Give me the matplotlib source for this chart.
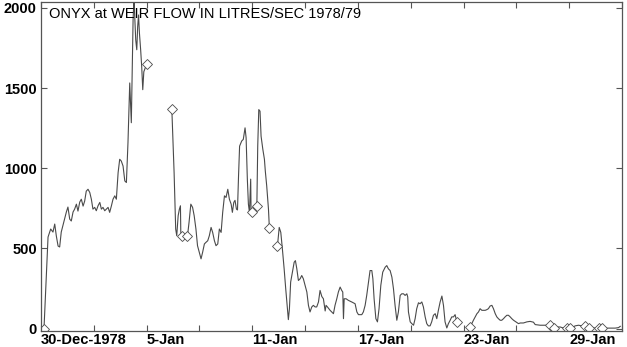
import numpy as np
import pandas as pd
import matplotlib
matplotlib.use("Agg")
import matplotlib.pyplot as plt

plt.rcParams['font.family'] = ['Liberation Sans', 'DejaVu Sans']

# Flow at Onyx weir, litres/sec; days counted from 30-Dec-1978 00:00, NaN = missing record
days = [
    0.17, 0.40, 0.55, 0.68, 0.78, 0.87, 0.97, 1.06, 1.15, 1.31, 1.44, 1.53, 1.63, 1.72, 1.82,
    1.91, 2.01, 2.10, 2.20, 2.29, 2.39, 2.48, 2.57, 2.67, 2.77, 2.86, 2.95, 3.05, 3.14, 3.24,
    3.34, 3.43, 3.52, 3.62, 3.71, 3.81, 3.90, 4.00, 4.09, 4.19, 4.28, 4.38, 4.47, 4.56, 4.66,
    4.76, 4.85, 4.94, 5.04, 5.13, 5.23, 5.28, 5.38, 5.44, 5.49, 5.54, 5.59, 5.66, 5.72, 5.78,
    5.84, 6.01,
    6.70,
    7.43, 7.56, 7.65, 7.71, 7.79, 7.86, 7.92, 7.94, 7.99,
    8.15,
    8.32, 8.41, 8.51, 8.61, 8.70, 8.80, 8.89, 8.99, 9.09, 9.18, 9.28, 9.37, 9.47, 9.56, 9.66,
    9.75, 9.85, 9.94, 10.04, 10.13, 10.23, 10.32, 10.42, 10.51, 10.61, 10.70, 10.80, 10.87,
    10.95, 11.02, 11.10, 11.16, 11.22, 11.28, 11.40, 11.49, 11.59, 11.65, 11.72, 11.78, 11.84,
    11.91, 11.93, 11.97,
    12.10,
    12.26, 12.31, 12.37, 12.44, 12.50, 12.60, 12.69, 12.74, 12.82, 12.92, 12.97,
    13.20,
    13.39, 13.45, 13.53, 13.62, 13.71, 13.81, 13.90, 14.00, 14.05, 14.11, 14.18, 14.28, 14.38,
    14.45, 14.53, 14.62, 14.72, 14.81, 14.90, 15.00, 15.10, 15.19, 15.28, 15.38, 15.47, 15.57,
    15.66, 15.76, 15.85, 15.95, 16.04, 16.14, 16.19, 16.27, 16.42, 16.61, 16.70, 16.80, 16.89,
    16.99, 17.08, 17.14, 17.18, 17.22, 17.33, 17.46, 17.65, 17.84, 17.94, 18.03, 18.22, 18.31,
    18.41, 18.50, 18.60, 18.69, 18.79, 18.85, 18.92, 19.02, 19.11, 19.20, 19.30, 19.41, 19.55,
    19.64, 19.73, 19.83, 19.93, 20.02, 20.11, 20.21, 20.30, 20.40, 20.49, 20.59, 20.68, 20.78,
    20.83, 20.87, 20.97, 21.06, 21.16, 21.25, 21.34, 21.44, 21.53, 21.63, 21.72, 21.82, 21.91,
    22.00, 22.10, 22.19, 22.29, 22.39, 22.48, 22.57, 22.67, 22.77, 22.86, 22.95, 23.05, 23.14,
    23.24, 23.33, 23.43, 23.52, 23.62,
    24.00,
    24.38, 24.47, 24.56, 24.66, 24.76, 24.85, 24.94, 25.04, 25.13, 25.23, 25.32, 25.41, 25.51,
    25.61, 25.70, 25.80, 25.89, 25.98, 26.08, 26.17, 26.27, 26.36, 26.46, 26.55, 26.65, 26.74,
    26.84, 26.93, 27.03, 27.12, 27.22, 27.40, 27.60, 27.78, 27.97, 28.07, 28.35, 28.73, 28.92,
    29.00,
    29.11, 29.30, 29.49, 29.68, 29.87,
    29.95,
    30.06, 30.15, 30.34, 30.53, 30.72, 30.91,
    31.00,
    31.10, 31.29, 31.48, 31.67,
    31.75,
    31.86, 32.05, 32.24, 32.43, 32.61, 32.80, 32.90,
]
flow = [
    0, 571, 621, 602, 652, 578, 515, 509, 602, 671, 727, 758, 683, 671, 727,
    745, 776, 733, 789, 807, 764, 795, 857, 869, 849, 807, 745, 756, 735, 766,
    787, 745, 756, 735, 745, 756, 725, 766, 807, 828, 807, 973, 1056, 1045, 1014,
    921, 911, 1159, 1532, 1284, 1925, 2060, 1801, 1739, 1882, 1956, 1844, 1739, 1633, 1490,
    1602, 1652,
    np.nan,
    1372, 973, 621, 579, 704, 745, 766, 602, 576,
    np.nan,
    577, 664, 776, 756, 704, 621, 517, 476, 435, 476, 528, 538, 548, 579, 631,
    600, 548, 517, 528, 621, 600, 725, 828, 818, 869, 807, 776, 725,
    787, 800, 745, 740, 952, 1138, 1170, 1180, 1252, 1190, 932, 776, 725,
    932, 745, 729,
    np.nan,
    766, 1138, 1366, 1356, 1200, 1118, 1056, 983, 890, 745, 630,
    np.nan,
    517, 538, 631, 600, 497, 373, 248, 124, 56, 124, 290, 352, 414,
    424, 373, 300, 311, 331, 311, 269, 228, 145, 104, 135, 145, 135,
    135, 166, 238, 200, 186, 110, 145, 135, 114, 93, 145, 186, 228,
    259, 238, 228, 62, 186, 186, 176, 166, 155, 104, 87, 87, 104,
    145, 207, 290, 362, 362, 311, 186, 62, 42, 124, 269, 352, 383,
    393, 373, 362, 321, 248, 145, 52, 104, 207, 217, 217, 207, 217,
    197, 104, 42, 31, 21, 62, 124, 161, 155, 166, 135, 73, 31,
    17, 17, 42, 83, 93, 62, 114, 166, 203, 145, 42, 4, 31,
    52, 73, 73, 87, 42,
    np.nan,
    10, 31, 52, 73, 93, 104, 124, 114, 114, 114, 118, 124, 141,
    145, 124, 93, 73, 62, 52, 52, 62, 73, 83, 83, 73, 62,
    52, 45, 37, 31, 35, 35, 42, 45, 40, 25, 21, 21, 25,
    np.nan,
    4, 10, 10, 3, 2,
    np.nan,
    2, 6, 17, 21, 17, 14,
    np.nan,
    4, 5, 3, 2,
    np.nan,
    2, 2, 3, 3, 3, 6, 14,
]

start = pd.Timestamp("1978-12-30")
tick_days = [0, 6, 12, 18, 24, 30]
minor_days = [3, 9, 15, 21, 27, 33]
tick_labels = ["30-Dec-1978", "5-Jan", "11-Jan", "17-Jan", "23-Jan", "29-Jan"]
y_ticks = [0, 500, 1000, 1500, 2000]

flow = np.array(flow, dtype=float)
t = start + pd.to_timedelta(days, unit="D")

# diamonds mark the ends of each continuous piece of record
ok = np.isfinite(flow)
prev_nan = np.r_[True, ~ok[:-1]]
next_nan = np.r_[~ok[1:], False]
ends = ok & (prev_nan | next_nan)

fig = plt.figure(figsize=(6.27, 3.47), dpi=100)
ax = fig.add_axes([41 / 627, 1 - 331 / 347, 581 / 627, 329.5 / 347])

ax.plot(t, flow, color="#4a4a4a", lw=0.8)
ax.plot(t[ends], flow[ends], ls="none", marker="D", ms=4.6, mfc="white",
        mec="#4a4a4a", mew=0.6)

ax.set_xlim(start, start + pd.Timedelta(days=33))
ax.set_ylim(-15, 2040)

ax.set_xticks([start + pd.Timedelta(days=d) for d in tick_days], labels=tick_labels,
              ha="left", fontsize=10.5, fontweight="bold")
ax.set_xticks([start + pd.Timedelta(days=d) for d in minor_days], minor=True)
ax.set_yticks(y_ticks, labels=[str(v) for v in y_ticks], fontsize=10.5, fontweight="bold")

ax.tick_params(which="both", direction="in", top=True, right=True, length=4.5,
               width=0.8, color="#555555")
ax.tick_params(axis="x", pad=1.5)
ax.tick_params(axis="y", pad=3)
for s in ax.spines.values():
    s.set_color("#555555")
    s.set_linewidth(0.9)

ax.text(0.0135, 0.962, "ONYX at WEIR FLOW IN LITRES/SEC 1978/79", transform=ax.transAxes,
        fontsize=10.5, va="center", ha="left")

fig.savefig("out.png", dpi=100)
